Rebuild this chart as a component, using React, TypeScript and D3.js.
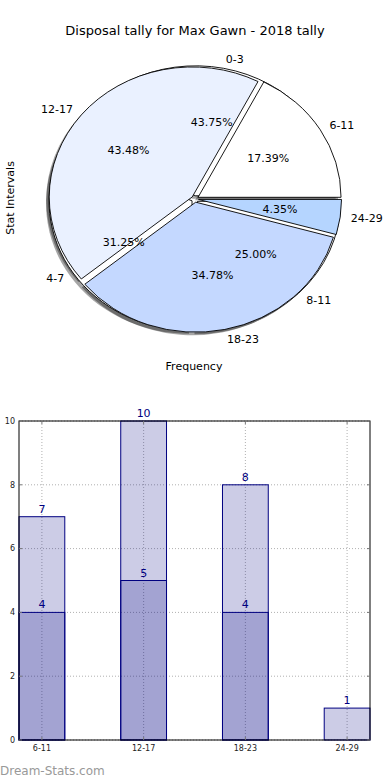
import React from 'react'
import * as d3 from 'd3'

// pie data (two overlaid pies, drawn with shadows)
const pieLabelsA = ['6-11', '12-17', '18-23', '24-29']
const pieValuesA = [4, 10, 8, 1]
const pieColorsA = ['#ffffff', '#eaf1ff', '#c4d8ff', '#b5d5ff']
const pieLabelsB = ['0-3', '4-7', '8-11']
const pieValuesB = [7, 5, 4]

// bar data
const barCats = ['6-11', '12-17', '18-23', '24-29']
const barTop = [7, 10, 8, 1]
const barBottom = [4, 5, 4, 0]
const yTicks = [0, 2, 4, 6, 8, 10]

const W = 390
const H = 780
const font = 'DejaVu Sans, sans-serif'

const cx = 195
const cy = 199
const rx = 143
const ry = 130
const explode = 0.025

type Slice = { label: string; value: number; start: number; end: number; mid: number; pct: number }

const makeSlices = (labels: string[], values: number[]): Slice[] => {
  const total = d3.sum(values)
  // matplotlib style: start at 3 o'clock, counterclockwise
  const pie = d3.pie<number>().sort(null).startAngle(Math.PI / 2).endAngle(Math.PI / 2 - 2 * Math.PI)
  return pie(values).map((d, i) => ({
    label: labels[i],
    value: values[i],
    start: d.startAngle,
    end: d.endAngle,
    mid: (d.startAngle + d.endAngle) / 2,
    pct: (values[i] / total) * 100,
  }))
}

const PieLayer = ({ slices, colors, shadow }: { slices: Slice[]; colors: string[]; shadow?: boolean }) => {
  const arc = d3.arc<any>().innerRadius(0).outerRadius(ry)
  const k = rx / ry
  return (
    <g>
      {slices.map((s, i) => {
        const ox = explode * rx * Math.sin(s.mid)
        const oy = -explode * ry * Math.cos(s.mid)
        const sx = shadow ? -3 : 0
        const sy = shadow ? 3 : 0
        return (
          <path
            key={i}
            d={arc({ startAngle: s.start, endAngle: s.end }) || ''}
            transform={`translate(${cx + ox + sx},${cy + oy + sy}) scale(${k},1)`}
            fill={shadow ? '#000' : colors[i]}
            fillOpacity={shadow ? 0.35 : 1}
            stroke={shadow ? 'none' : '#000'}
            strokeWidth={0.9}
            vectorEffect="non-scaling-stroke"
          />
        )
      })}
    </g>
  )
}

const PieTexts = ({ slices }: { slices: Slice[] }) => (
  <g fontFamily={font} fontSize={11} fill="#000">
    {slices.map((s, i) => {
      const lx = cx + 1.1 * rx * Math.sin(s.mid)
      const ly = cy - 1.1 * ry * Math.cos(s.mid)
      const px = cx + 0.6 * rx * Math.sin(s.mid)
      const py = cy - 0.6 * ry * Math.cos(s.mid)
      return (
        <g key={i}>
          <text x={lx} y={ly} dy="0.35em" textAnchor={lx > cx ? 'start' : 'end'}>
            {s.label}
          </text>
          <text x={px} y={py} dy="0.35em" textAnchor="middle">
            {s.pct.toFixed(2)}%
          </text>
        </g>
      )
    })}
  </g>
)

const Bars = () => {
  const left = 19
  const right = 370
  const top = 421
  const bottom = 740
  const frac = 0.45
  const step = (right - left) / (barCats.length - 1 + frac)
  const bw = step * frac
  const xc = d3
    .scaleLinear()
    .domain([0, barCats.length - 1])
    .range([left + bw / 2, right - bw / 2])
  const y = d3.scaleLinear().domain([0, 10]).range([bottom, top])
  const navy = '#000080'
  const barFill = 'rgba(0,0,128,0.2)'
  return (
    <g>
      {/* grid */}
      {yTicks.map((t) => (
        <line key={'gy' + t} x1={left} x2={right} y1={y(t)} y2={y(t)} stroke="#b0b0b0" strokeDasharray="1,2" />
      ))}
      {barCats.map((c, i) => (
        <line key={'gx' + c} x1={xc(i)} x2={xc(i)} y1={top} y2={bottom} stroke="#b0b0b0" strokeDasharray="1,2" />
      ))}
      {barTop.map((v, i) => (
        <rect key={'t' + i} x={xc(i) - bw / 2} y={y(v)} width={bw} height={y(0) - y(v)} fill={barFill} stroke={navy} strokeWidth={1} />
      ))}
      {barBottom.map((v, i) =>
        v > 0 ? (
          <rect key={'b' + i} x={xc(i) - bw / 2} y={y(v)} width={bw} height={y(0) - y(v)} fill={barFill} stroke={navy} strokeWidth={1} />
        ) : null
      )}
      {/* frame */}
      <rect x={left} y={top} width={right - left} height={bottom - top} fill="none" stroke="#000" strokeWidth={1} />
      {/* ticks */}
      {yTicks.map((t) => (
        <g key={'yt' + t}>
          <line x1={left} x2={left + 3} y1={y(t)} y2={y(t)} stroke="#777" />
          <line x1={right - 3} x2={right} y1={y(t)} y2={y(t)} stroke="#777" />
          <text x={left - 4} y={y(t)} dy="0.35em" textAnchor="end" fontFamily={font} fontSize={8} fill="#222">
            {t}
          </text>
        </g>
      ))}
      {barCats.map((c, i) => (
        <g key={'xt' + c}>
          <line x1={xc(i)} x2={xc(i)} y1={bottom - 3} y2={bottom} stroke="#777" />
          <line x1={xc(i)} x2={xc(i)} y1={top} y2={top + 3} stroke="#777" />
          <text x={xc(i)} y={bottom + 11} textAnchor="middle" fontFamily={font} fontSize={8} fill="#222">
            {c}
          </text>
        </g>
      ))}
      {/* value labels */}
      {barTop.map((v, i) => (
        <text key={'lt' + i} x={xc(i)} y={y(v) - 4} textAnchor="middle" fontFamily={font} fontSize={11} fill={navy}>
          {v}
        </text>
      ))}
      {barBottom.map((v, i) =>
        v > 0 ? (
          <text key={'lb' + i} x={xc(i)} y={y(v) - 4} textAnchor="middle" fontFamily={font} fontSize={11} fill={navy}>
            {v}
          </text>
        ) : null
      )}
    </g>
  )
}

const App = () => {
  const slicesA = makeSlices(pieLabelsA, pieValuesA)
  const slicesB = makeSlices(pieLabelsB, pieValuesB)
  return (
    <svg width={W} height={H} style={{ position: 'absolute', left: 0, top: 0 }}>
      <rect width={W} height={H} fill="#fff" />
      <text x={195} y={35} textAnchor="middle" fontFamily={font} fontSize={13} fill="#000">
        Disposal tally for Max Gawn - 2018 tally
      </text>
      <PieLayer slices={slicesB} colors={[]} shadow />
      <PieLayer slices={slicesA} colors={[]} shadow />
      <PieLayer slices={slicesB} colors={['#ffffff', '#ffffff', '#ffffff']} />
      <PieLayer slices={slicesA} colors={pieColorsA} />
      <PieTexts slices={slicesB} />
      <PieTexts slices={slicesA} />
      <text transform="translate(14,198) rotate(-90)" textAnchor="middle" fontFamily={font} fontSize={11} fill="#000">
        Stat Intervals
      </text>
      <text x={194} y={370} textAnchor="middle" fontFamily={font} fontSize={11} fill="#000">
        Frequency
      </text>
      <Bars />
      <text x={0} y={775} fontFamily={font} fontSize={12} fill="#999">
        Dream-Stats.com
      </text>
    </svg>
  )
}

export default App
